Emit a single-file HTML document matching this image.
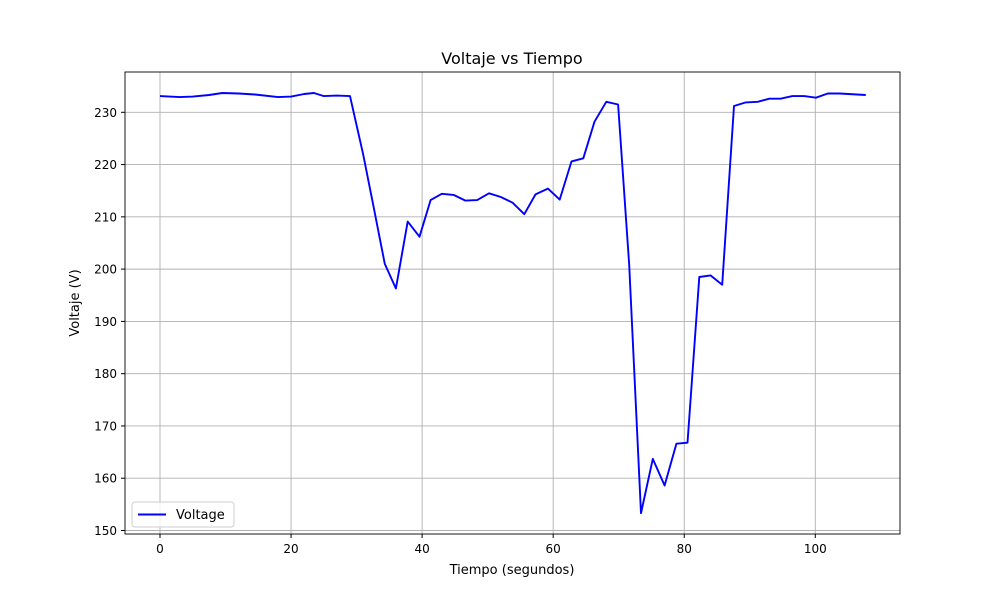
<!DOCTYPE html>
<html><head><meta charset="utf-8"><style>
body{margin:0;background:#fff}
text{font-family:"DejaVu Sans","Liberation Sans",sans-serif;fill:#000}
</style></head><body>
<svg id="chart" width="1000" height="600" xmlns="http://www.w3.org/2000/svg">
<rect width="1000" height="600" fill="#fff"/>
<g id="grid"></g>
<g id="ticks"></g>
<path id="line" fill="none" stroke="#0000ff" stroke-width="1.9" stroke-linejoin="round"/>
<rect x="125" y="72" width="775" height="462" fill="none" stroke="#000" stroke-width="0.9"/>
<text x="512" y="64" font-size="16" text-anchor="middle">Voltaje vs Tiempo</text>
<text x="512" y="574" font-size="13" text-anchor="middle">Tiempo (segundos)</text>
<text transform="translate(79,303) rotate(-90)" font-size="13" text-anchor="middle">Voltaje (V)</text>
<g>
<rect x="132" y="502" width="102" height="25" fill="#fff" fill-opacity="0.8" stroke="#ccc" rx="3"/>
<line x1="138" y1="514.5" x2="166" y2="514.5" stroke="#0000ff" stroke-width="1.9"/>
<text x="176" y="519" font-size="13">Voltage</text>
</g>
</svg>
<script>
const times=[0,3,5,7.5,9.5,12,14.5,18,20,22,23.5,25,27,29,31,32.5,34.3,36,37.8,39.6,41.3,43,44.8,46.6,48.4,50.2,52,53.8,55.6,57.3,59.2,61,62.8,64.6,66.3,68.1,69.9,71.6,73.4,75.2,77,78.8,80.5,82.3,84,85.8,87.6,89.4,91.2,93,94.7,96.5,98.3,100.1,101.9,103.7,107.7];
const voltages=[233.1,232.9,233.0,233.3,233.7,233.6,233.4,232.9,233.0,233.5,233.7,233.1,233.2,233.1,222,212.5,201,196.3,209.1,206.2,213.2,214.4,214.2,213.1,213.2,214.5,213.8,212.7,210.5,214.3,215.4,213.3,220.6,221.2,228.2,232.0,231.5,200.8,153.3,163.7,158.6,166.6,166.8,198.5,198.8,197,231.2,231.9,232,232.6,232.6,233.1,233.1,232.8,233.6,233.6,233.3];
const xTicks=[0,20,40,60,80,100];
const yTicks=[150,160,170,180,190,200,210,220,230];
const X=t=>160+t*6.553;
const Y=v=>112.3+(230-v)*5.2275;
const NS='http://www.w3.org/2000/svg';
const grid=document.getElementById('grid'),tk=document.getElementById('ticks');
function mk(tag,attrs,parent){const e=document.createElementNS(NS,tag);for(const k in attrs)e.setAttribute(k,attrs[k]);parent.appendChild(e);return e;}
xTicks.forEach(t=>{
  const g=mk('line',{x1:X(t),x2:X(t),y1:72,y2:534,stroke:'#b0b0b0','stroke-width':0.9},grid);
  
  
  mk('line',{x1:X(t),x2:X(t),y1:534,y2:538,stroke:'#000'},tk);
  const l=mk('text',{x:X(t),y:553,'font-size':12,'text-anchor':'middle'},tk);
  l.textContent=t;
  
  
});
yTicks.forEach(v=>{
  const g=mk('line',{x1:125,x2:900,y1:Y(v),y2:Y(v),stroke:'#b0b0b0','stroke-width':0.9},grid);
  
  
  mk('line',{x1:121,x2:125,y1:Y(v),y2:Y(v),stroke:'#000'},tk);
  const l=mk('text',{x:117,y:Y(v)+4.5,'font-size':12,'text-anchor':'end'},tk);
  l.textContent=v;
  
  
});
document.getElementById('line').setAttribute('d',times.map((t,i)=>(i?'L':'M')+X(t).toFixed(1)+','+Y(voltages[i]).toFixed(1)).join(''));
</script>
</body></html>
